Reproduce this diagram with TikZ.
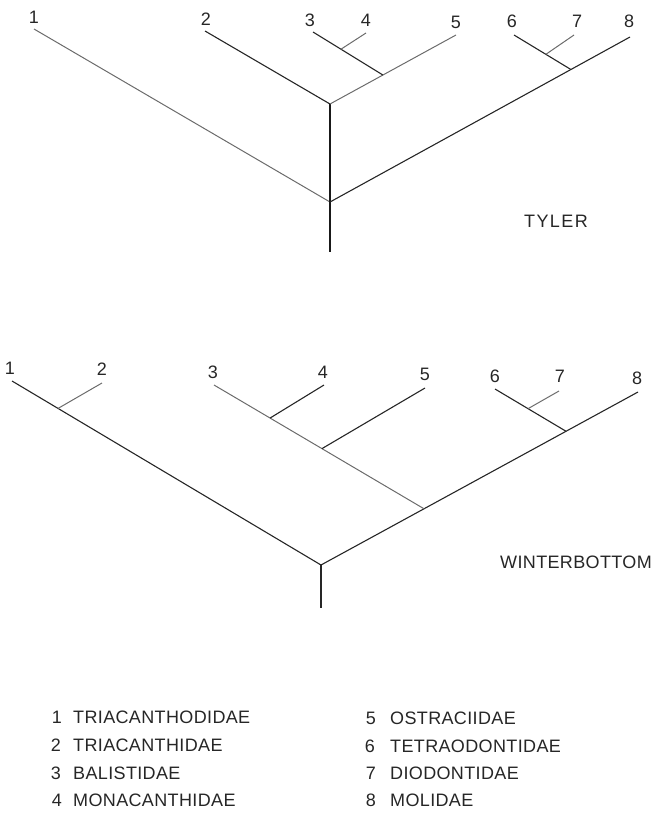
\documentclass[tikz,border=0pt]{standalone}
\usepackage{fontspec}
\setmainfont{Liberation Sans}[LetterSpace=2]
\usetikzlibrary{calc}
\tikzset{
  dk/.style={line width=1.1pt, draw=black!85},
  lt/.style={line width=1pt, draw=black!58},
  thick stem/.style={line width=1.8pt, draw=black!90},
  lab/.style={font=\fontsize{18}{18}\selectfont, inner sep=0pt, text=black!85},
  legtext/.style={lab, anchor=west},
  legnum/.style={lab, anchor=center},
  title/.style={lab},
}
\begin{document}
\begin{tikzpicture}[x=1pt,y=-1pt]
\useasboundingbox (0,0) rectangle (654,817);
% ---------------- TYLER tree ----------------
\coordinate (Ta1) at (34,29);
\coordinate (Ta2) at (205,31);
\coordinate (Ta3) at (313,32);
\coordinate (Ta4) at (366,33);
\coordinate (Ta5) at (456,35);
\coordinate (Ta6) at (514,35);
\coordinate (Ta7) at (574,35);
\coordinate (Ta8) at (630,37);
\coordinate (TA) at (330,104);
\coordinate (TR) at (330,202);
\coordinate (TB) at (330,252);
\coordinate (Tj345) at ($(TA)!0.42!(Ta5)$);
\coordinate (Tj34) at ($(Ta3)!0.40!(Tj345)$);
\coordinate (Tj678) at ($(TR)!0.803!(Ta8)$);
\coordinate (Tj67) at ($(Ta6)!0.56!(Tj678)$);
\draw[lt] (Ta1) -- (TR);
\draw[dk] (Ta2) -- (TA);
\draw[thick stem] (TA) -- (TR);
\draw[thick stem] (TR) -- (TB);
\draw[lt] (TA) -- (Ta5);
\draw[dk] (Ta3) -- (Tj345);
\draw[lt] (Tj34) -- (Ta4);
\draw[dk] (TR) -- (Ta8);
\draw[dk] (Ta6) -- (Tj678);
\draw[lt] (Tj67) -- (Ta7);
\node[lab] (TL1) at (34,17) {1};
\node[lab] (TL2) at (206,19) {2};
\node[lab] (TL3) at (310,20) {3};
\node[lab] (TL4) at (366,20) {4};
\node[lab] (TL5) at (456,22) {5};
\node[lab] (TL6) at (512,21) {6};
\node[lab] (TL7) at (577,21) {7};
\node[lab] (TL8) at (629,21) {8};
\node[title, font=\fontsize{18}{18}\selectfont\addfontfeature{LetterSpace=8}] (tyler) at (556,221) {TYLER};
% ---------------- WINTERBOTTOM tree ----------------
\coordinate (Wa1) at (12,381);
\coordinate (Wa2) at (102,383);
\coordinate (Wa3) at (214,385);
\coordinate (Wa4) at (324,385);
\coordinate (Wa5) at (425,388);
\coordinate (Wa6) at (495,389);
\coordinate (Wa7) at (559,391);
\coordinate (Wa8) at (638,392);
\coordinate (WR) at (321,565);
\coordinate (WB) at (321,608);
\coordinate (Wj12) at ($(Wa1)!0.149!(WR)$);
\coordinate (WjR) at ($(WR)!0.325!(Wa8)$);
\coordinate (Wj345) at ($(Wa3)!0.514!(WjR)$);
\coordinate (Wj34) at ($(Wa3)!0.267!(WjR)$);
\coordinate (Wj678) at ($(WR)!0.773!(Wa8)$);
\coordinate (Wj67) at ($(Wa6)!0.465!(Wj678)$);
\draw[dk] (Wa1) -- (WR);
\draw[lt] (Wj12) -- (Wa2);
\draw[dk] (WR) -- (Wa8);
\draw[dk] (WR) -- (WB);
\draw[lt] (Wa3) -- (WjR);
\draw[dk] (Wj34) -- (Wa4);
\draw[dk] (Wj345) -- (Wa5);
\draw[dk] (Wa6) -- (Wj678);
\draw[lt] (Wj67) -- (Wa7);
\node[lab] (WL1) at (10,368) {1};
\node[lab] (WL2) at (102,369) {2};
\node[lab] (WL3) at (213,372) {3};
\node[lab] (WL4) at (323,372) {4};
\node[lab] (WL5) at (425,374) {5};
\node[lab] (WL6) at (495,376) {6};
\node[lab] (WL7) at (560,376) {7};
\node[lab] (WL8) at (637,378) {8};
\node[title] (winter) at (576,562) {WINTERBOTTOM};
% ---------------- legend ----------------
\node[legnum] (n1) at (57,717) {1};
\node[legtext] (f1) at (73,717) {TRIACANTHODIDAE};
\node[legnum] (n2) at (56,745) {2};
\node[legtext] (f2) at (73,745) {TRIACANTHIDAE};
\node[legnum] (n3) at (56,773) {3};
\node[legtext] (f3) at (73,773) {BALISTIDAE};
\node[legnum] (n4) at (57,800) {4};
\node[legtext] (f4) at (73,800) {MONACANTHIDAE};
\node[legnum] (n5) at (371,718) {5};
\node[legtext] (f5) at (390,718) {OSTRACIIDAE};
\node[legnum] (n6) at (370,746) {6};
\node[legtext] (f6) at (390,746) {TETRAODONTIDAE};
\node[legnum] (n7) at (371,773) {7};
\node[legtext] (f7) at (390,773) {DIODONTIDAE};
\node[legnum] (n8) at (371,800) {8};
\node[legtext] (f8) at (390,800) {MOLIDAE};
\end{tikzpicture}
\end{document}
